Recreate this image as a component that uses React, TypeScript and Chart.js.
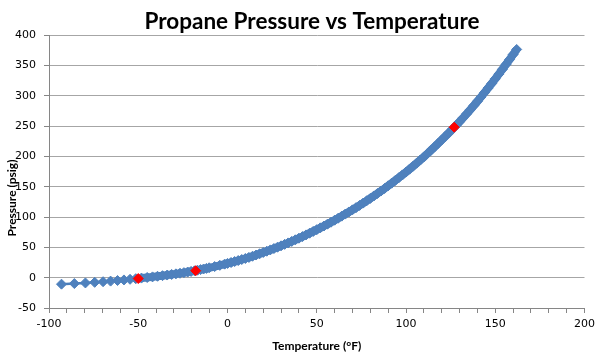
import React, { useEffect, useRef } from "react";
import { Chart, registerables } from "chart.js";

Chart.register(...registerables);

const CHART_TITLE = "Propane Pressure vs Temperature";
const X_TITLE = "Temperature (°F)";
const Y_TITLE = "Pressure (psig)";

// Blue series: temperature (°F) and pressure (psig)
const tempF = [
  -93, -85.8, -79.6, -74.4, -69.7, -65.5, -61.6, -58.0, -54.6, -51.4, -48.2,
  -45.0, -42.0, -39.2, -36.4, -33.8, -31.3, -28.9, -26.6, -24.4, -22.3, -20.4,
  -18.5, -16.8, -15.1, -13.4, -11.8, -10.3, -7.2, -4.3, -1.6,
  0, 2, 4, 6, 8, 10, 12, 14, 16, 18, 20, 22, 24, 26, 28, 30, 32, 34, 36, 38,
  40, 42, 44, 46, 48, 50, 52, 54, 56, 58, 60, 62, 64, 66, 68, 70, 72, 74, 76,
  78, 80, 82, 84, 86, 88, 90, 92, 94, 96, 98, 100, 102, 104, 106, 108, 110,
  112, 114, 116, 118, 120, 122, 124, 126, 128, 130, 132, 134, 136, 138, 140,
  142, 144, 146, 148, 150, 152, 154, 156, 158, 160, 162,
];
const pressurePsig = [
  -10.7, -9.7, -8.7, -7.7, -6.7, -5.7, -4.7, -3.7, -2.7, -1.7, -0.7,
  0.3, 1.3, 2.3, 3.3, 4.3, 5.3, 6.3, 7.3, 8.3, 9.3, 10.3,
  11.3, 12.3, 13.3, 14.3, 15.3, 16.3, 18.3, 20.3, 22.3,
  23.5, 25, 26.6, 28.2, 29.9, 31.6, 33.4, 35.3, 37.3, 39.4, 41.5, 43.6, 45.8, 48.0,
  50.2, 52.5, 54.9, 57.3, 59.8, 62.4,
  65, 67.7, 70.5, 73.3, 76.2, 79.1, 82.1, 85.1, 88.2, 91.4, 94.7, 98.0, 101.4,
  104.8, 108.3, 111.8, 115.4, 119.1, 122.9,
  126.8, 130.7, 134.7, 138.8, 142.9, 147.1, 151.4, 155.8, 160.3, 164.8, 169.4, 174.1,
  178.9, 183.8, 188.8, 193.9, 199.1,
  204.5, 210.0, 215.6, 221.3, 227, 232.8, 238.7, 244.7, 250.8, 257, 263.5,
  270.1, 276.8, 283.7, 290.7,
  297.8, 305.1, 312.5, 320, 327.7, 335.5, 343.4, 351.4, 359.5, 367.8, 376.2,
];

// Highlighted (red) points
const markedTempF = [-50, -17.8, 127];
const markedPsig = [-1.5, 11.5, 248];

const X_MIN = -100;
const X_MAX = 200;
const X_STEP = 10;
const X_LABEL_EVERY = 50;
const Y_MIN = -50;
const Y_MAX = 400;
const Y_STEP = 50;
const DENSE_FROM_F = -49;

const titlesPlugin = {
  id: "customTitles",
  afterDraw(chart: any) {
    const ctx = chart.ctx as CanvasRenderingContext2D;
    const area = chart.chartArea;
    ctx.save();
    ctx.fillStyle = "#000000";
    ctx.textAlign = "center";
    ctx.textBaseline = "alphabetic";
    ctx.font = "bold 22.5px Lato";
    ctx.fillText(CHART_TITLE, 312, 29);
    ctx.font = "bold 12px Lato";
    ctx.fillText(X_TITLE, (area.left + area.right) / 2, 350);
    ctx.translate(12, 198);
    ctx.rotate(-Math.PI / 2);
    ctx.textBaseline = "middle";
    ctx.fillText(Y_TITLE, 0, 0);
    ctx.restore();
  },
};

export default function App() {
  const canvasRef = useRef<HTMLCanvasElement | null>(null);

  useEffect(() => {
    document.body.style.margin = "0";
    const canvas = canvasRef.current;
    if (!canvas) return;
    const blue = tempF.map((t, i) => ({ x: t, y: pressurePsig[i] }));
    const red = markedTempF.map((t, i) => ({ x: t, y: markedPsig[i] }));
    const chart = new Chart(canvas, {
      type: "scatter",
      data: {
        datasets: [
          {
            label: "Marked",
            data: red,
            showLine: false,
            pointStyle: "rectRot",
            pointRadius: 5,
            pointBackgroundColor: "#FF0000",
            pointBorderColor: "#FF0000",
            pointBorderWidth: 1,
          },
          {
            label: "Pressure",
            data: blue,
            showLine: true,
            borderColor: "#4A7EBB",
            borderWidth: 2.5,
            borderJoinStyle: "round",
            segment: {
              borderWidth: (ctx: any) => (ctx.p0.parsed.x >= DENSE_FROM_F ? 8 : 2.5),
            },
            pointStyle: "rectRot",
            pointRadius: 5,
            pointBackgroundColor: "#4F81BD",
            pointBorderColor: "#4F81BD",
            pointBorderWidth: 1,
          },
        ],
      },
      options: {
        responsive: false,
        animation: false,
        devicePixelRatio: 1,
        layout: { padding: { top: 35, right: 11, left: 0, bottom: 0 } },
        plugins: {
          legend: { display: false },
          title: { display: false },
          tooltip: { enabled: false },
        },
        scales: {
          x: {
            type: "linear",
            min: X_MIN,
            max: X_MAX,
            afterFit: (scale: any) => {
              scale.height = 46;
            },
            ticks: {
              stepSize: X_STEP,
              autoSkip: false,
              maxRotation: 0,
              padding: 5,
              color: "#000000",
              font: { family: "DejaVu Sans", size: 11 },
              callback: (v: any) => (Number(v) % X_LABEL_EVERY === 0 ? String(v) : ""),
            },
            grid: {
              drawOnChartArea: false,
              drawTicks: true,
              tickLength: 5,
              tickColor: "#868686",
              color: "#868686",
            },
            border: { display: true, color: "#868686", width: 1 },
          },
          y: {
            type: "linear",
            min: Y_MIN,
            max: Y_MAX,
            afterFit: (scale: any) => {
              scale.width = 49;
            },
            ticks: {
              stepSize: Y_STEP,
              padding: 8,
              color: "#000000",
              font: { family: "DejaVu Sans", size: 11 },
            },
            grid: {
              drawOnChartArea: true,
              drawTicks: true,
              tickLength: 5,
              color: "#A6A6A6",
              tickColor: "#868686",
            },
            border: { display: true, color: "#868686", width: 1 },
          },
        },
      },
      plugins: [titlesPlugin],
    });
    return () => {
      chart.destroy();
    };
  }, []);

  return (
    <div style={{ width: 600, height: 354 }}>
      <canvas ref={canvasRef} width={600} height={354} />
    </div>
  );
}
